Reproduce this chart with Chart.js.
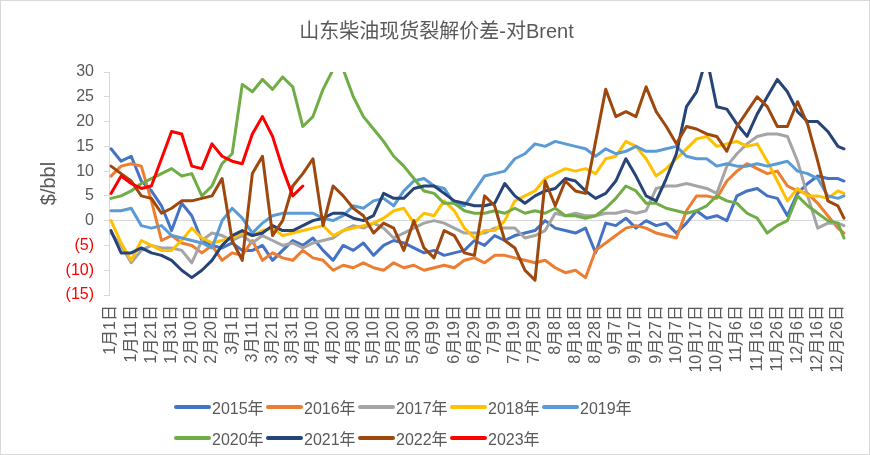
<!DOCTYPE html>
<html>
<head>
<meta charset="utf-8">
<script src="https://cdn.jsdelivr.net/npm/chart.js@4.4.1/dist/chart.umd.min.js"></script>
<style>
  html, body { margin: 0; padding: 0; background: #fff; }
  #wrap { position: relative; width: 870px; height: 455px; }
  #frame { position: absolute; left: 0; top: 0; width: 870px; height: 455px; box-sizing: border-box; border: 1px solid #d9d9d9; pointer-events: none; }
  canvas { position: absolute; left: 0; top: 0; }
  #legend { position: absolute; left: 174px; top: 391px; display: grid; grid-template-columns: repeat(5, 92px); grid-auto-rows: 31px; }
  .item { display: flex; align-items: center; font: 16px "Liberation Sans", "Noto Sans CJK SC", sans-serif; color: #595959; white-space: nowrap; }
  .swatch { width: 37px; height: 4px; border-radius: 2px; margin-right: 1px; }
</style>
</head>
<body>
<div id="wrap">
  <canvas id="chart" width="870" height="455"></canvas>
  <div id="legend"></div>
  <div id="frame"></div>
</div>
<script>
// 山东柴油现货裂解价差-对Brent, $/bbl, sampled every 5 days (day index in a leap-year calendar)
const days = [0,5,10,15,20,25,30,35,40,45,50,55,60,65,70,75,80,85,90,95,
  100,105,110,115,120,125,130,135,140,145,150,155,160,165,170,175,180,185,190,195,
  200,205,210,215,220,225,230,235,240,245,250,255,260,265,270,275,280,285,290,295,
  300,305,310,315,320,325,330,335,340,345,350,355,360,363];

const tickLabels = ['1月1日','1月11日','1月21日','1月31日','2月10日','2月20日','3月1日','3月11日','3月21日','3月31日',
  '4月10日','4月20日','4月30日','5月10日','5月20日','5月30日','6月9日','6月19日','6月29日','7月9日',
  '7月19日','7月29日','8月8日','8月18日','8月28日','9月7日','9月17日','9月27日','10月7日','10月17日',
  '10月27日','11月6日','11月16日','11月26日','12月6日','12月16日','12月26日'];

const yearLabels = ['2015年','2016年','2017年','2018年','2019年','2020年','2021年','2022年','2023年'];
const colors = ['#4472C4','#ED7D31','#A5A5A5','#FFC000','#5B9BD5','#70AD47','#264478','#9E480E','#FF0000'];

const y2015 = [14.5,12,13,8,6,3,-2,3.5,1,-4, -5,-5.5,-4.5,-6,-6,-5,-8,-6,-4,-5,
  -3.5,-6,-8,-5,-6,-4.5,-7,-5,-4,-4.5, -5.5,-6.5,-6,-7,-6.5,-6,-4,-5,-3,-4,
  -3,-2.5,-2,0,-1.5,-2,-2.5,-1.5,-6.5,-0.5, -1,0.5,-1.5,0,-1,-0.5,-2.5,-0.5,2,0.5,
  1,0,5,6,6.5,5,4.5,1,5.5,7.5, 9,8.5,8.5,8];
const y2016 = [9,11,11.5,11,4,-4,-3,-4.5,-5,-6.5, -5,-8,-6.5,-7,-4,-8,-6.5,-7.5,-8,-6,
  -7.5,-8,-10,-9,-9.5,-8.5,-9.5,-10,-8.5,-9.5, -9,-10,-9.5,-9,-9.5,-8,-7.5,-8.5,-7,-7,
  -7.5,-8,-8.5,-8,-9.5,-10.5,-10,-11.5,-6,-4.5, -3,-1.5,-1,-1.5,-2.5,-3,-3.5,2,5,5,
  4.5,8,10,11.5,10.5,9.5,10,7,6,5.5, 3.5,1,-1.5,-2.5];
const y2017 = [-2.5,-5,-8.5,-6,-5,-5.5,-5.5,-6,-8.5,-4, -2.5,-3,-4,-3,-4.5,-3,-4,-5,-4.5,-5.5,
  -4.5,-4,-3.5,-2,-1,-1.5,-0.5,-1.5,-3.5,-2.5, -1.5,-0.5,0,-0.5,-1.5,-2.5,-2.5,-2.5,-1.5,-1.5,
  -1.5,-3.5,-3,-2,1.5,1,1.5,1,1,1.5, 1.5,2,1.5,2,6.5,7,7,7.5,7,6.5,
  5.5,11,13.5,15.5,17,17.5,17.5,17,12,5, -1.5,-0.5,-0.5,-1];
const y2018 = [0,-4.5,-8,-4,-5,-6,-6,-4,-1.5,-3.5, -4.5,-4,-3.5,-2.5,-3,-2,-1.5,-3,-2.5,-2,
  -1.5,-1,-3,-2,-1.5,-1,-0.5,0.5,2,2.5, -0.5,1.5,1,4,2,-1.5,-3.5,-2,-2,0,
  4,5,6,8.5,9.5,10.5,10,10.5,9.5,12.5, 13,16,15,12.5,9,10.5,12.5,14.5,16.5,17,
  15,15.5,16,15,15.5,12,8,4,6.5,5, 5,4.5,6,5.5];
const y2019 = [2,2,2.5,-1,-1.5,-1,-3,-3.5,-4,-4.5, -5.5,0,2.5,0.5,-2.5,-0.5,1,1.5,1.5,1.5,
  1.5,0.5,0,1,3,2.5,4,4.5,3,6, 8,8.5,7,6.5,3.5,3,6,9,9.5,10,
  12.5,13.5,15.5,15,16,15.5,15,14.5,13,14.5, 13.5,14,15,14,14,14.5,15,13,12.5,12.5,
  11,11.5,11,11,11.5,11,11.5,12,10,9.5, 8.5,5,4.5,5];
const y2020 = [4.5,5,6,7.5,8.5,9.5,10.5,9,9.5,5, 7,11.5,13.5,27.5,26,28.5,26.5,29,27,19,
  21,26.5,30.5,30.5,25,21,18.5,16,13,11, 8.5,6,5.5,3.5,3.5,2,1.5,1.5,2,1.5,
  2.5,1.5,2,1.5,2.5,1,1,0.5,1,2.5, 4.5,7,6,3.5,3.5,2.5,2,1.5,2,3,
  5,4,3.5,1.5,0.5,-2.5,-1,0,5,3, 1.5,0,-0.5,-3.5];
const y2021 = [-2,-6.5,-6.5,-5.5,-6.5,-7,-8,-10,-11.5,-10, -8,-5,-3,-2,-3,-2.5,-1,-2,-2,-1,
  0,0.5,1.5,1.5,0.5,0,1,5.5,4.5,4.5, 6.5,7,7,5.5,4,3.5,3,3,3.5,7.5,
  5,3.5,5,6,6.5,8.5,8,6,4.5,5.5, 8,12.5,9,5,4,8.5,13.5,23,26,33,
  23,22.5,19.5,17,21.5,25,28.5,26,22,20, 20,18,15,14.5];
const y2022 = [11,9.5,8,5,4.5,1.5,2.5,4,4,4.5, 5,8.5,-4,-8,9.5,13,-3,0,7,9.5,
  12.5,-1,7,5,2.5,1,-2.5,-0.5,-1.5,-6, 0,-5.5,-7.5,-2,-3,-6.5,-7,5,3,-4,
  -5.5,-10,-12,8,3,8,6,5.5,16,26.5, 21,22,21,27,22,19,15.5,19,18.5,17.5,
  17,14,19,22,25,23,19,19,24,19.5, 12,4,3,0.5];
const y2023 = [5.5,9,7.5,6.5,7,12.5,18,17.5,11,10.5, 15.5,13,12,11.5,17.5,21,17,10.5,5,7];

const series = [y2015, y2016, y2017, y2018, y2019, y2020, y2021, y2022, y2023];
const fontFamily = '"Liberation Sans", "Noto Sans CJK SC", sans-serif';

const datasets = series.map((vals, i) => ({
  label: yearLabels[i],
  data: vals.map((v, k) => ({ x: days[k], y: v })),
  borderColor: colors[i],
  backgroundColor: colors[i],
  borderWidth: 3,
  pointRadius: 0,
  tension: 0,
  borderJoinStyle: 'round',
  borderCapStyle: 'round',
  order: series.length - 1 - i   // later years drawn on top
}));

const chart = new Chart(document.getElementById('chart'), {
  type: 'line',
  data: { datasets },
  options: {
    responsive: false,
    animation: false,
    layout: { padding: { left: 25, right: 22, top: 0, bottom: 70 } },
    plugins: {
      legend: { display: false },
      tooltip: { enabled: false },
      title: {
        display: true,
        text: '山东柴油现货裂解价差-对Brent',
        color: '#595959',
        font: { family: fontFamily, size: 20, weight: 'normal' },
        padding: { top: 20, bottom: 28 }
      }
    },
    scales: {
      x: {
        type: 'linear',
        min: -1,
        max: 365,
        afterBuildTicks: (scale) => {
          scale.ticks = tickLabels.map((_, i) => ({ value: i * 10 }));
        },
        afterFit: (scale) => { scale.height = 90; },
        grid: { display: false, drawTicks: false },
        border: { display: false },
        ticks: {
          autoSkip: false,
          minRotation: 90,
          maxRotation: 90,
          padding: 10,
          color: '#595959',
          font: { family: fontFamily, size: 16 },
          callback: (v, i) => tickLabels[i]
        }
      },
      y: {
        min: -15,
        max: 30,
        afterFit: (scale) => { scale.width = 84; },
        title: {
          display: true,
          text: '$/bbl',
          color: '#595959',
          font: { family: fontFamily, size: 20 },
          padding: { top: 12, bottom: 0 }
        },
        border: { display: true, color: '#d9d9d9' },
        grid: {
          color: (ctx) => (ctx.tick && ctx.tick.value === 0 ? '#d9d9d9' : 'rgba(0,0,0,0)'),
          tickColor: '#d9d9d9',
          tickLength: 5
        },
        ticks: {
          stepSize: 5,
          padding: 10,
          font: { family: fontFamily, size: 16 },
          color: (ctx) => (ctx.tick.value < 0 ? '#FF0000' : '#595959'),
          callback: (v) => (v < 0 ? '(' + (-v) + ')' : String(v))
        }
      }
    }
  }
});

// legend laid out in a fixed grid, like the source chart
const legendEl = document.getElementById('legend');
chart.data.datasets.forEach((ds) => {
  const item = document.createElement('div');
  item.className = 'item';
  const sw = document.createElement('span');
  sw.className = 'swatch';
  sw.style.background = ds.borderColor;
  const txt = document.createElement('span');
  txt.textContent = ds.label;
  item.appendChild(sw);
  item.appendChild(txt);
  legendEl.appendChild(item);
});
</script>
</body>
</html>
